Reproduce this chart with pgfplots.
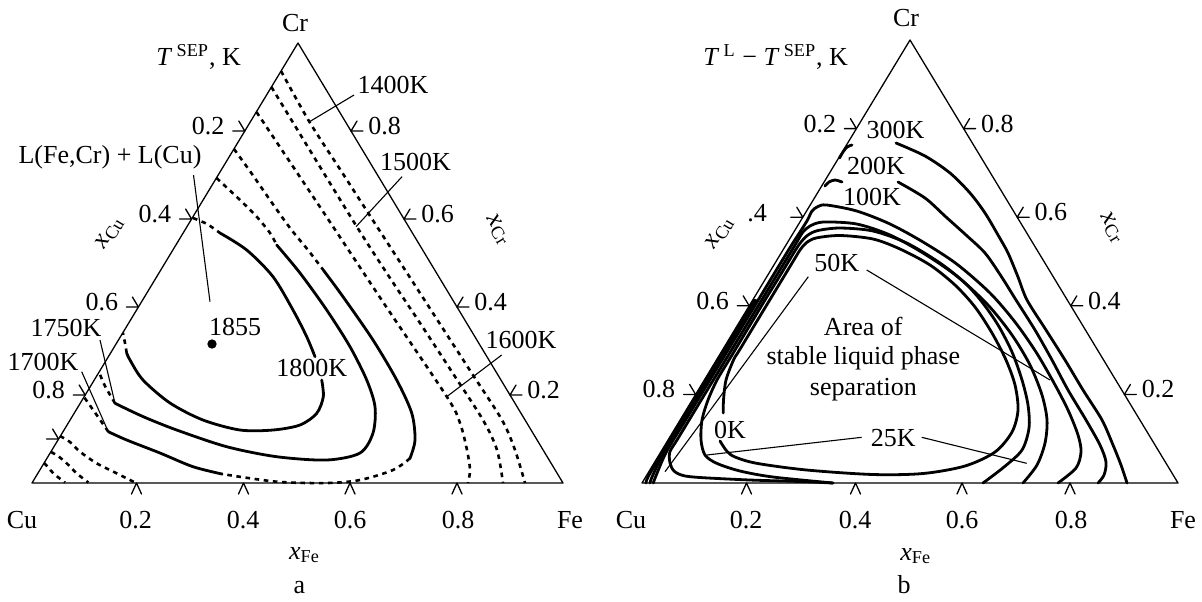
\documentclass[border=0pt]{standalone}
\usepackage{fontspec}
\setmainfont{Liberation Serif}
\usepackage{pgfplots}
\pgfplotsset{compat=1.18}
\begin{document}
\begin{tikzpicture}[
 tri/.style={black,line width=0.65pt,line join=round,line cap=round},
 cont/.style={black,line width=1.4pt,smooth,tension=0.5,line cap=round},
 dsh/.style={black,line width=1.3pt,dash pattern=on 2.3pt off 2.3pt,smooth,tension=0.5},
 ld/.style={black,line width=0.55pt},
 lbl/.style={font=\fontsize{13}{15}\selectfont, inner sep=0pt}]
\begin{axis}[at={(0,0)},anchor=south west,scale only axis,width=601pt,height=300.5pt,
 xmin=0,xmax=1202,ymin=0,ymax=601,y dir=reverse,hide axis,clip=false]
% ===================== panel a =====================
\addplot[tri] coordinates {(32,483)(563,483)(298,43)(32,483)};
\addplot[tri,unbounded coords=jump] coordinates {
(131.5,494)(136.5,483)(141.5,494) (nan,nan)
(238.5,494)(243.5,483)(248.5,494) (nan,nan)
(345,494)(350,483)(355,494) (nan,nan)
(452,494)(457,483)(462,494) (nan,nan)
(232.8,131)(244.8,131)(238.8,121) (nan,nan)
(179.6,219)(191.6,219)(185.6,209) (nan,nan)
(126.4,307)(138.4,307)(132.4,297) (nan,nan)
(73.2,395)(85.2,395)(79.2,385) (nan,nan)
(46.6,439)(58.6,439)(52.6,429) (nan,nan)
(363,131)(351,131)(357,121) (nan,nan)
(416,219)(404,219)(410,209) (nan,nan)
(469,307)(457,307)(463,297) (nan,nan)
(522,395)(510,395)(516,385)};
% 1400K
\addplot[dsh] coordinates {(281,71)(309.5,122)(341.8,172)(374,222)(406.4,272)(438.7,322)(471,372)(502,420)(515,450)(525,483)};
% 1500K
\addplot[dsh] coordinates {(271.4,87)(314,157)(357,227)(388,275)(420,323)(452,372)(483,420)(497,450)(503,483)};
% 1600K
\addplot[dsh] coordinates {(256.5,112)(320,207)(383,302)(447,397)(460,423)(467,450)(470,470)(468,483)};
% 1700K
\addplot[dsh] coordinates {(234,149)(252,174)(270,200)(290,228)(308,250)(323.3,270)};
\addplot[cont] coordinates {(323.3,270)(343,296.7)(373,340)(396.7,380)(411.7,413)(415,440)(410,458.3)};
\addplot[dsh] coordinates {(410,458.3)(393,470)(360,480)(326.7,483)(276.7,481.7)(222,474)};
\addplot[cont] coordinates {(222,474)(193,466.7)(160,453)(126.7,440)(108.3,431.7)};
\addplot[dsh] coordinates {(108.3,431.7)(96,414)(84,397)};
% 1750K
\addplot[dsh] coordinates {(216.5,178)(240,200)(256.7,216.7)(270,233)(276.7,245)};
\addplot[cont] coordinates {(276.7,245)(300,273)(326.7,310)(350,346.7)(366.7,380)(375,406.7)(373,433)(360,453)(326.7,460)(276.7,456.7)(226.7,446.7)(176.7,430)(143.3,416.7)(115,403.3)};
\addplot[dsh] coordinates {(115,403.3)(105,386)(99,372)};
% 1800K
\addplot[dsh] coordinates {(193,218)(207,224)(220,233)};
\addplot[cont] coordinates {(220,233)(246.7,250)(273,276.7)(293,310)(306.7,336.7)(315,356.7)};
\addplot[cont] coordinates {(321.7,380)(323.3,396.7)(316.7,413.3)(300,425)(273,430)(240,430)(203,420)(170,403)(143,380)(130,360)(126.7,353)};
\addplot[dsh] coordinates {(126.7,353)(125,343)(123,333)};
% Cu corner dashed
\addplot[dsh] coordinates {(60,436)(70,442)(80,451.7)(96.7,463.3)(116.7,473.3)(135,482.5)};
\addplot[dsh] coordinates {(51,452)(58,456)(66.7,463.3)(76.7,473.3)(88.3,482.5)};
\addplot[dsh] coordinates {(44,463)(48,467)(53.3,473.3)(65,482.5)};
% max point
\addplot[only marks,mark=*,mark size=2.1pt,black] coordinates {(212,344)};
% leaders
\addplot[ld] coordinates {(193.5,175)(210,301.7)};
\addplot[ld] coordinates {(354,95)(309.5,121.7)};
\addplot[ld] coordinates {(402,176.7)(356,226.7)};
\addplot[ld] coordinates {(501.7,355)(446.7,396.7)};
\addplot[ld] coordinates {(100,340)(115,403.3)};
\addplot[ld] coordinates {(81.7,371.7)(108.3,431.7)};
% labels a
\node[lbl,anchor=base west] at (axis cs:156,65) {\textit{T}\,\textsuperscript{SEP}, K};
\node[lbl] at (axis cs:110,157) {L(Fe,Cr) + L(Cu)};
\node[lbl] at (axis cs:393,85) {1400K};
\node[lbl] at (axis cs:415.6,161.7) {1500K};
\node[lbl] at (axis cs:521,340) {1600K};
\node[lbl] at (axis cs:235,327) {1855};
\node[lbl] at (axis cs:311.7,368.3) {1800K};
\node[lbl] at (axis cs:66,328) {1750K};
\node[lbl] at (axis cs:43,362) {1700K};
\node[lbl] at (axis cs:295,23) {Cr};
\node[lbl] at (axis cs:22,520) {Cu};
\node[lbl] at (axis cs:570,520) {Fe};
\node[lbl] at (axis cs:304.5,555) {\textit{x}\textsubscript{Fe}};
\node[lbl] at (axis cs:299.5,588) {a};
\node[lbl,rotate=59] at (axis cs:110,233) {\textit{x}\textsubscript{Cu}};
\node[lbl,rotate=-59] at (axis cs:498,230) {\textit{x}\textsubscript{Cr}};
\node[lbl] at (axis cs:135.5,520) {0.2};
\node[lbl] at (axis cs:243,520) {0.4};
\node[lbl] at (axis cs:350,520) {0.6};
\node[lbl] at (axis cs:458,520) {0.8};
\node[lbl,anchor=east] at (axis cs:224.8,126) {0.2};
\node[lbl,anchor=east] at (axis cs:171.6,214) {0.4};
\node[lbl,anchor=east] at (axis cs:118.4,302) {0.6};
\node[lbl,anchor=east] at (axis cs:65.2,390) {0.8};
\node[lbl,anchor=west] at (axis cs:368,126) {0.8};
\node[lbl,anchor=west] at (axis cs:421,214) {0.6};
\node[lbl,anchor=west] at (axis cs:474,302) {0.4};
\node[lbl,anchor=west] at (axis cs:527,390) {0.2};
% ===================== panel b =====================
\addplot[tri] coordinates {(642,483)(1178,483)(910,40)(642,483)};
\addplot[tri,unbounded coords=jump] coordinates {
(741.5,494)(746.5,483)(751.5,494) (nan,nan)
(850.5,494)(855.5,483)(860.5,494) (nan,nan)
(957,494)(962,483)(967,494) (nan,nan)
(1065,494)(1070,483)(1075,494) (nan,nan)
(844.4,128.6)(856.4,128.6)(850.4,118.6) (nan,nan)
(790.8,217.2)(802.8,217.2)(796.8,207.2) (nan,nan)
(737.2,305.8)(749.2,305.8)(743.2,295.8) (nan,nan)
(683.6,394.4)(695.6,394.4)(689.6,384.4) (nan,nan)
(975.6,128.6)(963.6,128.6)(969.6,118.6) (nan,nan)
(1029.2,217.2)(1017.2,217.2)(1023.2,207.2) (nan,nan)
(1082.8,305.8)(1070.8,305.8)(1076.8,295.8) (nan,nan)
(1136.4,394.4)(1124.4,394.4)(1130.4,384.4)};
% 300K
\addplot[cont] coordinates {(646,483)(648,477)(662.3,452)(681.6,420)(693.7,400)(724,350)(754.2,300)};
\addplot[cont] coordinates {(839.5,158)(843,152)(847,147)(852,145)};
\addplot[cont] coordinates {(896,143)(925,156)(950,173)(970,193)(985,213)(998,235)(1008,253)(1018,277)(1027,300)(1046,330)(1065,360)(1083,390)(1102,420)(1113,445)(1121,465)(1127,483)};
% 200K
\addplot[cont] coordinates {(650,483)(652,477)(663.8,452)(683.1,420)(695.2,400)(725.5,350)(755.7,300)};
\addplot[cont] coordinates {(825,186)(829,182)(835,180)(842,182)};
\addplot[cont] coordinates {(898,182)(925,198)(946,217)(966,235)(985,253)(1001,276)(1016,300)(1035,330)(1052,360)(1068,390)(1086,420)(1100,445)(1106,462)(1104,475)(1098,483)};
% 100K
\addplot[cont] coordinates {(653.3,483)(655.5,477)(666.3,452)(685.6,420)(697.7,400)(728,350)(758.2,300)(788.5,250)(800,232)(807.5,220)(812,211)(818,206.5)(826.7,205)(856.7,211)(890,224)(923,242)(956.7,264)(990,293)(1015,322)(1036,352)(1054,383)(1068,410)(1078,435)(1081,452)(1076,468)(1058,483)};
% 50K
\addplot[cont] coordinates {(833,483)(800,481.5)(750,480)(700,477.5)(683,475.5)(674,471)(670,463)(669.8,452)(677,440)(689.1,420)(701.2,400)(731.5,350)(761.7,300)(792,250)(798,240)(803,232)(810,226)(823.3,222)(856.7,224)(890,235)(923,253)(956.7,276)(988,305)(1012,335)(1030,365)(1042,395)(1047,420)(1045,443)(1037,465)(1023,483)};
% 25K
\addplot[cont] coordinates {(833,483)(773,477)(740,471)(716.7,463.3)(705,455)(701,440)(702,420)(708,400)(717,380)(729,360)(735,350)(753,320)(765,300)(777.3,280)(789.4,260)(795.5,250)(801,242)(808,235)(818,230.5)(840,228)(873,231)(906.7,243)(940,263)(965,283)(982,302)(998,325)(1012,352)(1022,380)(1028,405)(1029,428)(1022,450)(1004,467)(983,483)};
% 0K
\addplot[cont] coordinates {(723.3,413)(723.5,400)(726,380)(733.5,360)(739.5,350)(757.6,320)(769.7,300)(781.8,280)(793.9,260)(800,250)(806,243)(816,238)(840,235.5)(873,239)(900,249)(930,265)(955,285)(975,307)(992,333)(1006,360)(1015,385)(1018,410)(1012,432)(995,452)(965,466)(923,473.5)(873,474.5)(806.7,470)(756.7,463.3)(735,457)(726.7,451)(720,441)};
% leaders b
\addplot[ld] coordinates {(808.3,276.7)(665,471.7)};
\addplot[ld] coordinates {(866.7,270)(1050,380)};
\addplot[ld] coordinates {(861.7,437.3)(706.7,455)};
\addplot[ld] coordinates {(921.7,437.3)(1026.7,463.3)};
% labels b
\node[lbl,anchor=base west] at (axis cs:703,65) {\textit{T}\,\textsuperscript{L} − \textit{T}\,\textsuperscript{SEP}, K};
\node[lbl] at (axis cs:895.5,130) {300K};
\node[lbl] at (axis cs:876,166) {200K};
\node[lbl] at (axis cs:872,197) {100K};
\node[lbl] at (axis cs:836.7,263.3) {50K};
\node[lbl] at (axis cs:893.3,438.3) {25K};
\node[lbl] at (axis cs:730,430) {0K};
\node[lbl] at (axis cs:863.3,326.7) {Area of};
\node[lbl] at (axis cs:863.3,358.3) {stable liquid phase};
\node[lbl] at (axis cs:863.3,390) {separation};
\node[lbl] at (axis cs:906,18) {Cr};
\node[lbl] at (axis cs:631,520) {Cu};
\node[lbl] at (axis cs:1183,520) {Fe};
\node[lbl] at (axis cs:915.7,556) {\textit{x}\textsubscript{Fe}};
\node[lbl] at (axis cs:904,585) {b};
\node[lbl,rotate=59] at (axis cs:720,233) {\textit{x}\textsubscript{Cu}};
\node[lbl,rotate=-59] at (axis cs:1111.7,228) {\textit{x}\textsubscript{Cr}};
\node[lbl] at (axis cs:746,520) {0.2};
\node[lbl] at (axis cs:855,520) {0.4};
\node[lbl] at (axis cs:962,520) {0.6};
\node[lbl] at (axis cs:1071,520) {0.8};
\node[lbl,anchor=east] at (axis cs:836.4,123.6) {0.2};
\node[lbl] at (axis cs:757,213) {.4};
\node[lbl,anchor=east] at (axis cs:729.2,300.8) {0.6};
\node[lbl,anchor=east] at (axis cs:675.6,389.4) {0.8};
\node[lbl,anchor=west] at (axis cs:980.6,123.6) {0.8};
\node[lbl,anchor=west] at (axis cs:1034.2,212.2) {0.6};
\node[lbl,anchor=west] at (axis cs:1087.8,300.8) {0.4};
\node[lbl,anchor=west] at (axis cs:1141.4,389.4) {0.2};
\end{axis}
\pgfresetboundingbox
\path[use as bounding box] (0,0) rectangle (601pt,300.5pt);
\end{tikzpicture}
\end{document}
